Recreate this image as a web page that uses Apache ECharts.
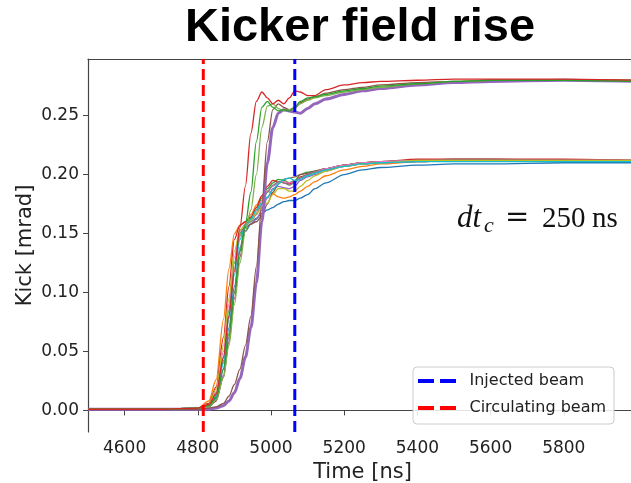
<!DOCTYPE html>
<html>
<head>
<meta charset="utf-8">
<script src="https://cdn.jsdelivr.net/npm/echarts@6/dist/echarts.min.js"></script>
<style>
  html, body { margin: 0; padding: 0; background: #fff; }
  #chart { width: 631px; height: 483px; }
</style>
</head>
<body>
<div id="chart"></div>
<script>
// time samples [ns]
const times = [4500, 4700, 4800, 4830, 4850, 4870, 4885, 4900, 4915, 4930, 4945, 4960, 4975, 4990, 5005,
  5020, 5035, 5050, 5065, 5080, 5100, 5120, 5150, 5200, 5250, 5300, 5400, 5500, 5600, 5800, 6000];

// upper family (kick in mrad)
const upRed    = [0.001,0.001,0.002,0.005,0.014,0.045,0.080,0.118,0.155,0.190,0.235,0.262,0.270,0.265,0.260,0.263,0.260,0.265,0.271,0.270,0.267,0.267,0.272,0.276,0.278,0.279,0.280,0.281,0.281,0.281,0.280];
const upGreen  = [0.001,0.001,0.002,0.004,0.011,0.035,0.065,0.100,0.135,0.158,0.185,0.228,0.257,0.262,0.257,0.254,0.255,0.254,0.257,0.262,0.265,0.266,0.268,0.271,0.273,0.275,0.277,0.279,0.280,0.280,0.279];
const upOlive  = [0.001,0.001,0.002,0.003,0.009,0.028,0.055,0.090,0.125,0.152,0.170,0.200,0.240,0.258,0.260,0.256,0.254,0.255,0.256,0.260,0.263,0.265,0.267,0.270,0.272,0.274,0.277,0.279,0.280,0.280,0.280];
const upBrown  = [0.001,0.001,0.001,0.002,0.003,0.006,0.012,0.022,0.035,0.055,0.080,0.122,0.175,0.228,0.255,0.260,0.257,0.255,0.257,0.261,0.264,0.266,0.269,0.272,0.274,0.276,0.278,0.279,0.280,0.280,0.280];
const upPurple = [0.001,0.001,0.001,0.001,0.002,0.004,0.008,0.015,0.027,0.045,0.070,0.108,0.160,0.210,0.240,0.252,0.255,0.254,0.253,0.252,0.256,0.260,0.264,0.268,0.271,0.273,0.276,0.278,0.279,0.280,0.279];

// lower family
const lowBlue   = [0.001,0.001,0.002,0.003,0.010,0.035,0.070,0.105,0.135,0.152,0.158,0.163,0.167,0.170,0.172,0.175,0.177,0.178,0.178,0.180,0.183,0.188,0.193,0.200,0.204,0.206,0.208,0.209,0.209,0.210,0.210];
const lowOrange = [0.001,0.001,0.002,0.008,0.026,0.077,0.120,0.150,0.157,0.160,0.166,0.174,0.182,0.186,0.184,0.181,0.180,0.181,0.183,0.186,0.190,0.194,0.199,0.204,0.207,0.209,0.211,0.212,0.212,0.212,0.212];
const lowGreen  = [0.001,0.001,0.002,0.004,0.014,0.045,0.085,0.125,0.150,0.158,0.163,0.170,0.180,0.188,0.193,0.196,0.195,0.193,0.195,0.200,0.202,0.203,0.205,0.208,0.210,0.211,0.212,0.212,0.212,0.212,0.212];
const lowRed    = [0.001,0.001,0.002,0.006,0.020,0.062,0.105,0.145,0.157,0.160,0.164,0.172,0.182,0.190,0.195,0.194,0.193,0.192,0.194,0.198,0.200,0.202,0.205,0.208,0.210,0.211,0.213,0.213,0.213,0.213,0.212];
const lowPurple = [0.001,0.001,0.002,0.003,0.009,0.030,0.062,0.100,0.138,0.155,0.158,0.162,0.170,0.180,0.188,0.190,0.189,0.188,0.190,0.195,0.198,0.200,0.203,0.207,0.209,0.210,0.211,0.212,0.212,0.212,0.212];
const lowBrown  = [0.001,0.001,0.002,0.003,0.008,0.028,0.058,0.095,0.130,0.155,0.158,0.160,0.165,0.175,0.185,0.192,0.196,0.197,0.198,0.200,0.201,0.203,0.205,0.208,0.210,0.211,0.212,0.213,0.213,0.212,0.212];
const lowPink   = [0.001,0.001,0.002,0.005,0.016,0.050,0.090,0.130,0.152,0.158,0.162,0.168,0.178,0.186,0.190,0.193,0.194,0.193,0.194,0.197,0.200,0.202,0.205,0.208,0.210,0.211,0.212,0.212,0.212,0.212,0.212];
const lowGray   = [0.001,0.001,0.002,0.004,0.013,0.042,0.080,0.120,0.148,0.157,0.160,0.166,0.175,0.185,0.191,0.194,0.193,0.191,0.193,0.197,0.200,0.202,0.204,0.207,0.209,0.210,0.211,0.212,0.212,0.212,0.211];
const lowOlive  = [0.001,0.001,0.002,0.005,0.018,0.055,0.095,0.135,0.153,0.157,0.161,0.167,0.172,0.176,0.183,0.188,0.188,0.186,0.186,0.190,0.195,0.199,0.203,0.207,0.209,0.210,0.212,0.212,0.212,0.212,0.212];
const lowCyan   = [0.001,0.001,0.002,0.004,0.012,0.040,0.078,0.115,0.145,0.156,0.162,0.170,0.176,0.181,0.187,0.192,0.196,0.197,0.195,0.196,0.199,0.201,0.204,0.207,0.209,0.210,0.211,0.211,0.211,0.211,0.211];

// beam arrival times [ns]
const injectedT = 5065;
const circulatingT = 4815;

const xTicks = [4600, 4800, 5000, 5200, 5400, 5600, 5800];
const yTicks = [0, 0.05, 0.10, 0.15, 0.20, 0.25];
const xMin = 4500, xMax = 6000;
const yMin = -0.0183, yMax = 0.298;

const font = 'DejaVu Sans';
const serif = 'Liberation Serif';

const curves = [
  // lower family first, upper family on top
  { d: lowBlue, c: '#1f77b4' },
  { d: lowOrange, c: '#ff7f0e' },
  { d: lowGreen, c: '#2ca02c' },
  { d: lowRed, c: '#d62728' },
  { d: lowPurple, c: '#9467bd' },
  { d: lowBrown, c: '#8c564b' },
  { d: lowPink, c: '#e377c2' },
  { d: lowGray, c: '#7f7f7f' },
  { d: lowOlive, c: '#bcbd22' },
  { d: lowCyan, c: '#17becf' },
  { d: upPurple, c: '#9467bd', w: 3 },
  { d: upBrown, c: '#8c564b' },
  { d: upOlive, c: '#7fb24a' },
  { d: upGreen, c: '#2ca02c' },
  { d: upRed, c: '#d62728' }
];

const series = curves.map((cv, i) => ({
  name: 'trace' + i,
  type: 'line',
  data: times.map((t, k) => [t, cv.d[k]]),
  symbol: 'none',
  smooth: 0.3,
  smoothMonotone: 'x',
  lineStyle: { color: cv.c, width: cv.w || 1.3 },
  itemStyle: { color: cv.c },
  z: 2
}));

series.push({
  name: 'Circulating beam',
  type: 'line',
  data: [[circulatingT, yMin], [circulatingT, yMax]],
  symbol: 'none',
  lineStyle: { color: '#ff0000', width: 3, type: [11, 5] },
  itemStyle: { color: '#ff0000' },
  z: 3
});
series.push({
  name: 'Injected beam',
  type: 'line',
  data: [[injectedT, yMin], [injectedT, yMax]],
  symbol: 'none',
  lineStyle: { color: '#0000ff', width: 3, type: [11, 5] },
  itemStyle: { color: '#0000ff' },
  z: 3
});

const chart = echarts.init(document.getElementById('chart'));
chart.setOption({
  animation: false,
  backgroundColor: '#fff',
  grid: { left: 88, top: 59, right: -6, bottom: 51, outerBoundsMode: 'none' },
  legend: {
    data: ['Injected beam', 'Circulating beam'],
    orient: 'vertical',
    left: 413,
    top: 367,
    padding: [6, 8, 8, 5],
    // two dashes, like the dashed marker lines
    icon: 'path://M0 0H16V4H0Z M22 0H38V4H22Z',
    itemWidth: 39,
    itemHeight: 4,
    itemGap: 11,
    selectedMode: false,
    backgroundColor: 'rgba(255,255,255,0.85)',
    borderColor: '#cccccc',
    borderWidth: 1,
    borderRadius: 4,
    textStyle: { fontFamily: font, fontSize: 16, color: '#222', padding: [0, 0, 0, 8] }
  },
  xAxis: [{
    type: 'value',
    min: xMin,
    max: xMax,
    name: 'Time [ns]',
    nameLocation: 'middle',
    nameGap: 25,
    nameTextStyle: { fontFamily: font, fontSize: 21, color: '#222' },
    axisLine: { lineStyle: { color: '#444', width: 1.2 } },
    axisTick: { show: true, length: 5, lineStyle: { color: '#444' }, customValues: xTicks },
    axisLabel: { fontFamily: font, fontSize: 17, color: '#222', margin: 8, customValues: xTicks,
      formatter: v => String(v) },
    splitLine: { show: false }
  }, {
    type: 'value',
    position: 'top',
    min: xMin,
    max: xMax,
    axisLine: { show: true, lineStyle: { color: '#444', width: 1.2 } },
    axisTick: { show: false },
    axisLabel: { show: false },
    splitLine: { show: false }
  }],
  yAxis: {
    type: 'value',
    min: yMin,
    max: yMax,
    name: 'Kick [mrad]',
    nameLocation: 'middle',
    nameGap: 52,
    nameMoveOverlap: false,
    nameTextStyle: { fontFamily: font, fontSize: 21, color: '#222' },
    axisLine: { show: true, lineStyle: { color: '#444', width: 1.2 } },
    axisTick: { show: true, length: 5, lineStyle: { color: '#444' }, customValues: yTicks },
    axisLabel: {
      fontFamily: font, fontSize: 17, color: '#222', margin: 9,
      customValues: yTicks,
      formatter: v => v.toFixed(2)
    },
    splitLine: { show: false }
  },
  graphic: [
    {
      type: 'text', x: 360, y: 28,
      style: { text: 'Kicker field rise', fontFamily: 'Liberation Sans', fontWeight: 'bold', fontSize: 47,
        fill: '#000', align: 'center', verticalAlign: 'middle' }
    },
    {
      type: 'text', x: 457, y: 219,
      style: { text: 'dt', fontFamily: serif, fontStyle: 'italic', fontSize: 31, fill: '#111', verticalAlign: 'middle' }
    },
    {
      type: 'text', x: 484, y: 226,
      style: { text: 'c', fontFamily: serif, fontStyle: 'italic', fontSize: 22, fill: '#111', verticalAlign: 'middle' }
    },
    {
      type: 'text', x: 505, y: 218,
      style: { text: '=', fontFamily: 'DejaVu Serif', fontSize: 29, fill: '#111', verticalAlign: 'middle' }
    },
    {
      type: 'text', x: 542, y: 219,
      style: { text: '250', fontFamily: serif, fontSize: 29, fill: '#111', verticalAlign: 'middle' }
    },
    {
      type: 'text', x: 592, y: 219,
      style: { text: 'ns', fontFamily: serif, fontSize: 29, fill: '#111', verticalAlign: 'middle' }
    }
  ],
  series: series
});
</script>
</body>
</html>
